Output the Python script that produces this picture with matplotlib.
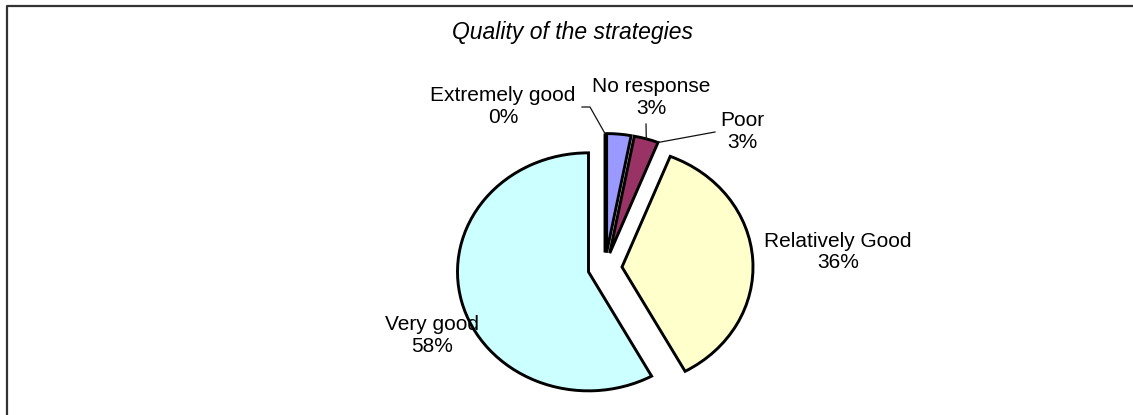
import numpy as np
import matplotlib
matplotlib.use("Agg")
import matplotlib.pyplot as plt
from matplotlib.lines import Line2D

plt.rcParams['font.family'] = ['Liberation Sans', 'DejaVu Sans']

# Survey answers, in the order the slices run clockwise from 12 o'clock
categories = ["No response", "Poor", "Relatively Good", "Very good", "Extremely good"]
percentages = [3, 3, 36, 58, 0]
colors = ["#9999FF", "#993366", "#FFFFCC", "#CCFFFF", "#660066"]
title = "Quality of the strategies"

W, H = 1133, 415
fig = plt.figure(figsize=(W / 100, H / 100), dpi=100)
ax = fig.add_axes([0, 0, 1, 1])
ax.axis('off')

# pie geometry in pixels (from the top-left corner)
cx, cy = 605, 268
rx, ry = 131, 119


def to_data(x, y):
    return (x - cx) / rx, (cy - y) / ry


wedges, _ = ax.pie(
    percentages, colors=colors, startangle=90, counterclock=False,
    explode=[0.13] * len(percentages), radius=1.0,
    wedgeprops=dict(edgecolor='black', linewidth=2.1, joinstyle='miter'),
)
ax.set_aspect('auto')
ax.set_xlim(-cx / rx, (W - cx) / rx)
ax.set_ylim(-(H - cy) / ry, cy / ry)


def rim_point(w, theta):
    c = np.asarray(w.center)
    t = np.deg2rad(theta)
    return c + w.r * np.array([np.cos(t), np.sin(t)])


label_pos = {
    "Extremely good": (503, 107),
    "No response": (651, 98),
    "Poor": (742, 132),
    "Relatively Good": (838, 252),
    "Very good": (432, 335),
}
for name, pct in zip(categories, percentages):
    x, y = to_data(*label_pos[name])
    ax.text(x, y, f"{name}\n{pct}%", ha='center', va='center',
            fontsize=15, linespacing=1.2, color='black')

lead_kw = dict(color='#111111', linewidth=0.9)
w_no, w_poor, w_ext = wedges[0], wedges[1], wedges[4]

# Extremely good: elbow line to the zero-width slice at the top
p = rim_point(w_ext, w_ext.theta1)
a = to_data(582, 107)
b = to_data(590, 107)
ax.add_line(Line2D([a[0], b[0], p[0]], [a[1], b[1], p[1]], **lead_kw))

# No response: short drop to the rim
p = rim_point(w_poor, (w_poor.theta1 + w_poor.theta2) / 2)
a = to_data(646, 124)
ax.add_line(Line2D([a[0], p[0]], [a[1], p[1]], **lead_kw))

# Poor
p = rim_point(w_poor, min(w_poor.theta1, w_poor.theta2))
a = to_data(715, 132)
ax.add_line(Line2D([a[0], p[0]], [a[1], p[1]], **lead_kw))

# title
tx, ty = to_data(572, 33)
ax.text(tx, ty, title, ha='center', va='center', fontsize=16.5,
        style='italic', color='black')

# chart frame (top and left edges)
fig.add_artist(Line2D([6.5 / W, 6.5 / W, 1.0], [0.0, 1 - 6.5 / H, 1 - 6.5 / H],
                      transform=fig.transFigure, color='#333333', linewidth=1.6))

fig.savefig("out.png", dpi=100)
